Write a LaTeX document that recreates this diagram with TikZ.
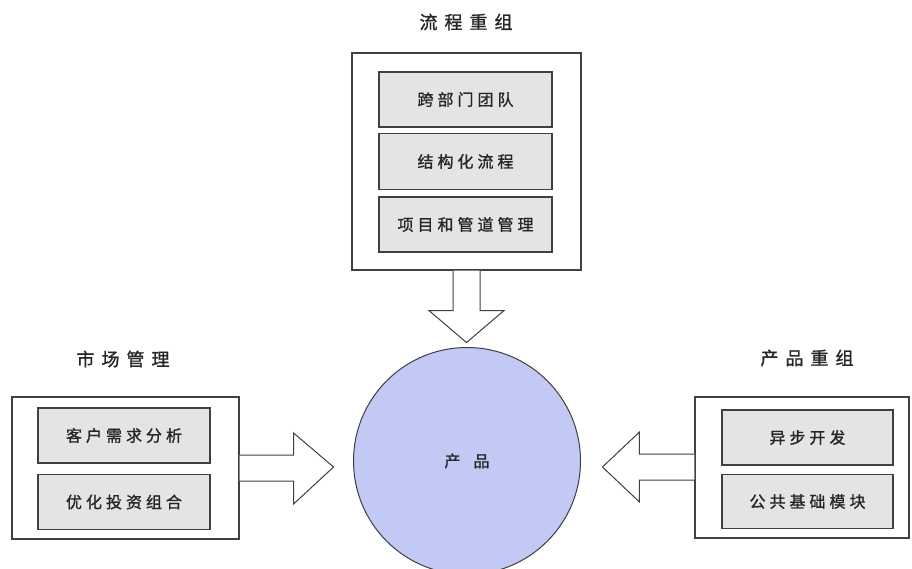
\documentclass[tikz,border=0pt]{standalone}
\usepackage{fontspec}
\setmainfont{Noto Sans CJK SC}[FakeBold=1.2]
\usetikzlibrary{calc}
\definecolor{linegray}{HTML}{404040}
\definecolor{boxgray}{HTML}{E4E4E4}
\definecolor{circblue}{HTML}{C1C9F4}
\definecolor{txtgray}{HTML}{262626}
\newdimen\spcgapdim
\def\spacedaux#1{\ifx\relax#1\else #1\kern\spcgapdim\expandafter\spacedaux\fi}
\newcommand\spacedtext[2]{\spcgapdim=#1\relax\spacedaux#2\relax\kern-\spcgapdim}
\begin{document}
\begin{tikzpicture}[x=1pt,y=-1pt,
  outerbox/.style={draw=linegray,line width=1.1pt,fill=white,inner sep=0pt},
  innerbox/.style={draw=linegray,line width=1.1pt,fill=boxgray,inner sep=0pt,
     font=\fontsize{16}{19}\selectfont,text=txtgray},
  grouptitle/.style={font=\fontsize{18}{21}\selectfont,text=txtgray,inner sep=0pt},
  blockarrow/.style={draw=linegray,line width=1pt,fill=white,line join=miter}
]
\path[use as bounding box,fill=white] (0,0) rectangle (912,568);

% top group
\node[grouptitle] (ttop) at (466,22) {\spacedtext{7pt}{流程重组}};
\node[outerbox,minimum width=229pt,minimum height=217pt] (proc) at (466.5,161.5) {};
\node[innerbox,minimum width=173pt,minimum height=55pt] (p1) at (465.5,99.5) {\spacedtext{4pt}{跨部门团队}};
\node[innerbox,minimum width=173pt,minimum height=56pt] (p2) at (465.5,161.5) {\spacedtext{4pt}{结构化流程}};
\node[innerbox,minimum width=173pt,minimum height=55pt] (p3) at (465.5,224.5) {\spacedtext{4pt}{项目和管道管理}};

% centre circle
\node[circle,draw=linegray,line width=1pt,fill=circblue,minimum size=227pt,inner sep=0pt,
      font=\fontsize{16}{19}\selectfont,text=txtgray] (prod) at (467,461) {\spacedtext{13pt}{产品}};

% left group
\node[grouptitle] (tleft) at (123,359) {\spacedtext{7pt}{市场管理}};
\node[outerbox,minimum width=227pt,minimum height=142pt] (mkt) at (125.5,468) {};
\node[innerbox,minimum width=172pt,minimum height=55pt] (m1) at (124,435.5) {\spacedtext{4pt}{客户需求分析}};
\node[innerbox,minimum width=172pt,minimum height=55pt] (m2) at (124,502) {\spacedtext{4pt}{优化投资组合}};

% right group
\node[grouptitle] (tright) at (807,358) {\spacedtext{7pt}{产品重组}};
\node[outerbox,minimum width=214pt,minimum height=141pt] (prg) at (802,467.5) {};
\node[innerbox,minimum width=171pt,minimum height=55pt] (r1) at (807.5,437.5) {\spacedtext{4pt}{异步开发}};
\node[innerbox,minimum width=171pt,minimum height=54pt] (r2) at (807.5,501.5) {\spacedtext{4pt}{公共基础模块}};

% block arrows
\coordinate (dtip) at ($(proc.south)+(0,72)$);
\draw[blockarrow] ($(proc.south)+(-13.5,0)$) -- ++(0,40) -- ++(-24,0) -- (dtip)
   -- ($(proc.south)+(37.5,40)$) -- ++(-24,0) -- ($(proc.south)+(13.5,0)$);

\coordinate (rtip) at ($(mkt.east |- prod.center)+(94,6)$);
\draw[blockarrow] ($(mkt.east)+(0,-13)$) -- ++(54,0) -- ++(0,-22) -- (rtip)
   -- ($(mkt.east)+(54,36)$) -- ++(0,-23) -- ($(mkt.east)+(0,13)$);

\coordinate (ltip) at ($(prg.west |- prod.center)+(-92,6)$);
\draw[blockarrow] ($(prg.west)+(0,-13.5)$) -- ++(-55,0) -- ++(0,-22) -- (ltip)
   -- ($(prg.west)+(-55,34.5)$) -- ++(0,-22) -- ($(prg.west)+(0,12.5)$);
\end{tikzpicture}
\end{document}
